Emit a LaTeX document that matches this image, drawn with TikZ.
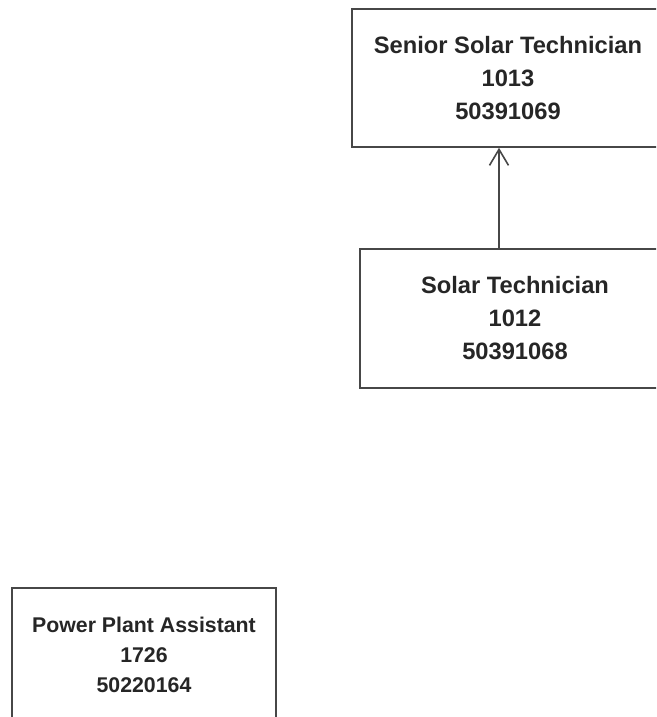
\documentclass[tikz,border=0pt]{standalone}
\usepackage{fontspec}
\setmainfont{Liberation Sans}
\usepackage{tikz}
\usetikzlibrary{positioning,arrows.meta}
\tikzset{
  jobbox/.style={rectangle,draw=black!72,line width=1.6pt,align=center,inner sep=0pt,
    font=\fontsize{23.7}{33}\selectfont\bfseries,text=black!85},
  smallbox/.style={jobbox,font=\fontsize{21.3}{30}\selectfont\bfseries},
  promo/.style={-{Straight Barb[length=16pt,width=19pt,line width=1.6pt]},line width=1.6pt,draw=black!72},
}
\begin{document}
\begin{tikzpicture}[x=1pt,y=-1pt]
  \useasboundingbox (0,0) rectangle (656,717);
  \clip (0,0) rectangle (656,717);
  % career ladder
  \node[jobbox,minimum width=312pt,minimum height=138pt] (senior) at (508,78)
    {Senior Solar Technician\\1013\\50391069};
  \node[jobbox,minimum width=310pt,minimum height=139pt] (tech) at (515,318.5)
    {Solar Technician\\1012\\50391068};
  \node[smallbox,minimum width=264pt,minimum height=134pt] (assist) at (144,655)
    {Power Plant Assistant\\1726\\50220164};
  \coordinate (ax) at (499,0);
  \draw[promo] (tech.north -| ax) -- (senior.south -| ax);
\end{tikzpicture}
\end{document}
